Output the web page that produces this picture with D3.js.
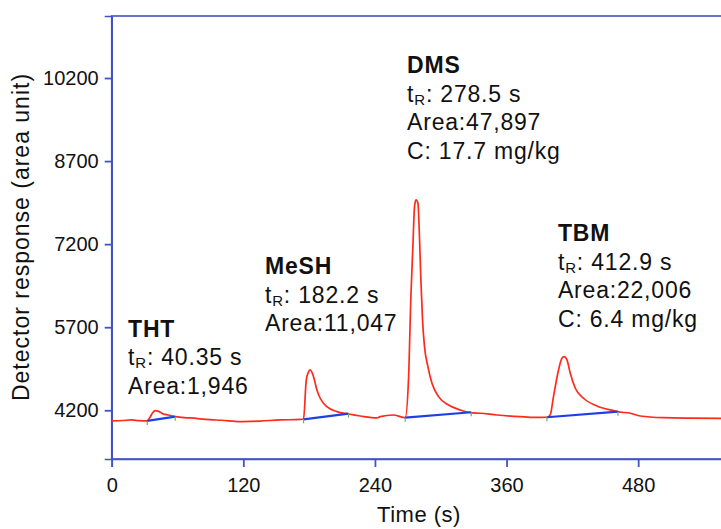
<!DOCTYPE html>
<html>
<head>
<meta charset="utf-8">
<script src="https://cdn.jsdelivr.net/npm/d3@7"></script>
<style>
  body { margin: 0; background: #fff; }
  svg { display: block; font-family: "Liberation Sans", Arial, sans-serif; }
</style>
</head>
<body>
<svg id="chrom" width="721" height="529"></svg>
<script>
// chromatogram trace (time in s, response in area units)
var traceTime = [0, 10, 18, 25, 32.4, 35.1, 37.5, 39.7, 42, 44.2, 47, 51.5, 57.9, 64, 71.6, 89.8, 100, 117, 135, 153.6, 171.9,
                 174.9, 177.4, 179.2, 181, 184, 187.1, 190.1, 196.2, 205.3, 215.9, 226.6, 241.8, 244.8, 256.7,
                 267.6, 270.6, 272.8, 274.6, 276.1, 277.4, 279.2, 280.4, 281.9, 283.4, 285.2, 288.3, 292, 298, 307.1, 317.8, 326.9, 336, 351.2, 372.5, 386,
                 396.8, 399.8, 402.8, 407.4, 410.5, 412.6, 415.1, 418.1, 422.7, 430.2, 442.4, 457.6, 461.2, 472.8, 481.9, 502.9, 527.5, 554.8, 560];
var traceResp = [4007, 4015, 4025, 4012, 4007, 4080, 4160, 4193, 4185, 4165, 4133, 4115, 4084, 4070, 4061, 4030, 4020, 3995, 4005, 4025, 4035,
                 4042, 4748, 4880, 4928, 4807, 4567, 4417, 4265, 4175, 4133, 4097, 4061, 4084, 4115,
                 4066, 4748, 6253, 7156, 7879, 8000, 7941, 7458, 6555, 5832, 5349, 4988, 4688, 4446, 4296, 4205, 4157, 4146, 4115, 4084, 4070,
                 4074, 4115, 4446, 4928, 5140, 5169, 5109, 4869, 4598, 4417, 4278, 4193, 4175, 4146, 4097, 4066, 4058, 4055, 4055];

// integration baselines: start / end of each peak
var peakNames = ["THT", "MeSH", "DMS", "TBM"];
var baseStartTime = [32.4, 174.9, 267.6, 396.8];
var baseStartResp = [4007, 4037, 4066, 4074];
var baseEndTime = [57.9, 215.9, 327.8, 461.6];
var baseEndResp = [4084, 4139, 4164, 4175];

// annotation text per peak and where its first line sits (data units)
var peakRT = ["40.35", "182.2", "278.5", "412.9"];
var peakArea = ["1,946", "11,047", "47,897", "22,006"];
var peakConc = ["", "", "17.7", "6.4"];
var labelTime = [14.9, 139.8, 269.3, 406.9];
var labelResp = [5530, 6663, 10290, 7259];

var xTicks = [0, 120, 240, 360, 480];
var yTicks = [4200, 5700, 7200, 8700, 10200];

function DrawChart()
{
  var svg = d3.select("#chrom");
  var margin = {"left": 111.7, "top": 16, "bottom": 70};
  var height = 529;
  var axisColor = "#4253c4";

  var xScale = d3.scaleLinear().domain([0, 560]).range([margin.left, margin.left + 614.2]);
  var yScale = d3.scaleLinear().domain([3320, 11320]).range([height - margin.bottom, margin.top]);

  // frame
  svg.append("rect")
     .attr("x", xScale(0)).attr("y", yScale(11320))
     .attr("width", xScale(560) - xScale(0)).attr("height", yScale(3320) - yScale(11320))
     .attr("fill", "none").attr("stroke", axisColor).attr("stroke-width", 1.6);

  var xAxis = d3.axisBottom(xScale).tickValues(xTicks).tickSize(8).tickPadding(11).tickFormat(d3.format("d"));
  var yAxis = d3.axisLeft(yScale).tickValues(yTicks).tickSize(7).tickPadding(6).tickFormat(d3.format("d"));

  var gx = svg.append("g").attr("transform", "translate(0," + yScale(3320) + ")").call(xAxis);
  var gy = svg.append("g").attr("transform", "translate(" + xScale(0) + ",0)").call(yAxis);

  [gx, gy].forEach(function(g) {
    g.attr("font-size", 20).attr("font-family", "'Liberation Sans', Arial, sans-serif");
    g.select(".domain").attr("stroke", axisColor).attr("stroke-width", 1.6);
    g.selectAll(".tick line").attr("stroke", axisColor).attr("stroke-width", 1.8);
    g.selectAll(".tick text").attr("fill", "#111").style("font-size", "20px");
  });

  // axis titles
  svg.append("text")
     .attr("x", 419).attr("y", 521.5)
     .attr("text-anchor", "middle")
     .style("font-size", "22px").style("letter-spacing", "0.5px")
     .attr("fill", "#111")
     .text("Time (s)");

  svg.append("text")
     .attr("transform", "translate(29,237) rotate(-90)")
     .attr("text-anchor", "middle")
     .style("font-size", "23px").style("letter-spacing", "1px")
     .attr("fill", "#111")
     .text("Detector response (area unit)");

  // chromatogram
  var points = traceTime.map(function(t, i) { return [t, traceResp[i]]; });
  var line = d3.line()
               .x(function(d) { return xScale(d[0]); })
               .y(function(d) { return yScale(d[1]); })
               .curve(d3.curveMonotoneX);

  svg.append("path")
     .datum(points)
     .attr("d", line)
     .attr("fill", "none")
     .attr("stroke", "#ff2a1c")
     .attr("stroke-width", 1.7)
     .attr("stroke-linejoin", "round");

  // baselines with little green marks at the ends
  peakNames.forEach(function(name, i) {
    svg.append("line")
       .attr("x1", xScale(baseStartTime[i])).attr("y1", yScale(baseStartResp[i]))
       .attr("x2", xScale(baseEndTime[i])).attr("y2", yScale(baseEndResp[i]))
       .attr("stroke", "#1f3fe6").attr("stroke-width", 2.2);

    [[baseStartTime[i], baseStartResp[i]], [baseEndTime[i], baseEndResp[i]]].forEach(function(p) {
      svg.append("line")
         .attr("x1", xScale(p[0])).attr("y1", yScale(p[1]))
         .attr("x2", xScale(p[0])).attr("y2", yScale(p[1]) + 4)
         .attr("stroke", "#5cb85c").attr("stroke-width", 1.2);
    });
  });

  // peak labels
  var lineGap = 28.7;
  peakNames.forEach(function(name, i) {
    var x = xScale(labelTime[i]);
    var y = yScale(labelResp[i]);
    var g = svg.append("g").attr("fill", "#111").style("font-size", "23px").style("letter-spacing", "0.8px");

    g.append("text").attr("x", x).attr("y", y).style("font-weight", "bold").text(name);

    var tr = g.append("text").attr("x", x).attr("y", y + lineGap);
    tr.append("tspan").text("t");
    tr.append("tspan").attr("dy", 3).style("font-size", "15px").text("R");
    tr.append("tspan").attr("dy", -3).text(": " + peakRT[i] + " s");

    g.append("text").attr("x", x).attr("y", y + 2 * lineGap).text("Area:" + peakArea[i]);

    if (peakConc[i] != "")
      g.append("text").attr("x", x).attr("y", y + 3 * lineGap).text("C: " + peakConc[i] + " mg/kg");
  });
}

DrawChart();
</script>
</body>
</html>
